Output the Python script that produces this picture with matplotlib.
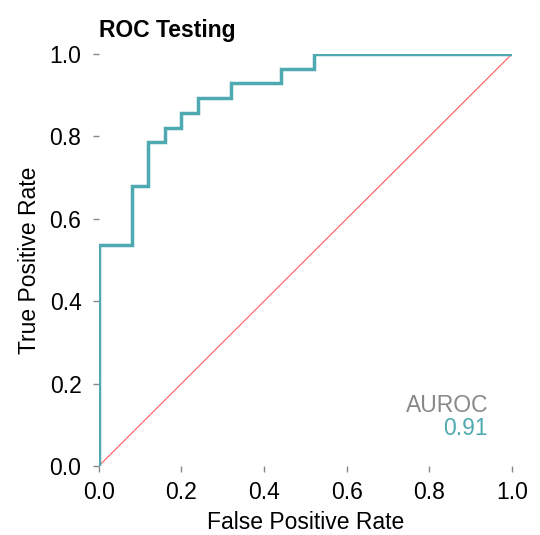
import matplotlib
matplotlib.use("Agg")
import matplotlib.pyplot as plt

plt.rcParams['font.family'] = ['Liberation Sans', 'DejaVu Sans']

# ROC points (step curve)
fpr = [0.0, 0.0, 0.08, 0.08, 0.12, 0.12, 0.16, 0.16, 0.20, 0.20, 0.24, 0.24,
       0.32, 0.32, 0.44, 0.44, 0.52, 0.52, 1.0]
tpr = [0.0, 15/28, 15/28, 19/28, 19/28, 22/28, 22/28, 23/28, 23/28, 24/28,
       24/28, 25/28, 25/28, 26/28, 26/28, 27/28, 27/28, 1.0, 1.0]
diag = [0.0, 1.0]
auroc = 0.91
ticks = [0.0, 0.2, 0.4, 0.6, 0.8, 1.0]

teal = '#4ea9b0'
red = '#ff5a5a'

fig = plt.figure(figsize=(5.4, 5.35), dpi=100)
ax = fig.add_axes([0.183, 0.129, 0.765, 0.770])

ax.plot(diag, diag, color=red, linewidth=0.8)
ax.plot(fpr, tpr, color=teal, linewidth=2.5, solid_joinstyle='miter')

ax.set_xlim(0, 1)
ax.set_ylim(0, 1)
ax.set_xticks(ticks)
ax.set_yticks(ticks)
ax.set_xticklabels([f"{t:.1f}" for t in ticks])
ax.set_yticklabels([f"{t:.1f}" for t in ticks])
for s in ax.spines.values():
    s.set_visible(False)
ax.tick_params(axis='both', colors='#888888', labelcolor='black',
               labelsize=16.5, length=4.5, width=1)
ax.tick_params(axis='x', pad=6)
ax.tick_params(axis='y', pad=8)

ax.set_xlabel("False Positive Rate", fontsize=16.5, labelpad=5)
ax.set_ylabel("True Positive Rate", fontsize=16.5, labelpad=6)
ax.set_title("ROC Testing", loc='left', fontsize=16.5, fontweight='bold', pad=12)

ax.text(0.942, 0.148, "AUROC", color='#888888', fontsize=16.5,
        ha='right', va='center', transform=ax.transData)
ax.text(0.942, 0.090, f"{auroc:.2f}", color=teal, fontsize=16.5,
        ha='right', va='center', transform=ax.transData)

fig.savefig("out.png", dpi=100)
